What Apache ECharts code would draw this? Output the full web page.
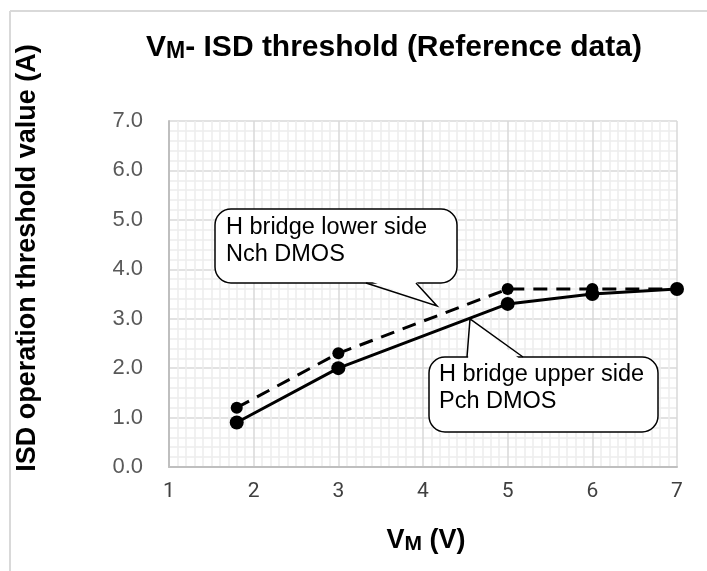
<!DOCTYPE html>
<html>
<head>
<meta charset="utf-8">
<script src="https://cdn.jsdelivr.net/npm/echarts@6/dist/echarts.min.js"></script>
<style>
html,body{margin:0;padding:0;background:#fff;}
#chart{width:707px;height:571px;}
</style>
</head>
<body>
<div id="chart"></div>
<script>
// Data
var vmValues = [1.8, 3, 5, 6, 7];
var lowerSideNch = [1.2, 2.3, 3.6, 3.6, 3.6];   // dashed
var upperSidePch = [0.9, 2.0, 3.3, 3.5, 3.6];   // solid
var xTicks = [1, 2, 3, 4, 5, 6, 7];
var yTicks = [0, 1, 2, 3, 4, 5, 6, 7];

function pairs(xs, ys) { return xs.map(function (x, i) { return [x, ys[i]]; }); }

var chart = echarts.init(document.getElementById('chart'), null, { renderer: 'canvas' });
var black = '#000000';
var ff = 'Liberation Sans, Arial, sans-serif';

chart.setOption({
  animation: false,
  backgroundColor: '#ffffff',
  grid: { left: 169, right: 30, top: 121, bottom: 104, containLabel: false },
  xAxis: {
    type: 'value',
    min: xTicks[0], max: xTicks[xTicks.length - 1], interval: 1,
    axisLine: { show: true, lineStyle: { color: '#bfbfbf', width: 2 } },
    axisTick: { show: false },
    minorTick: { show: false, splitNumber: 10 },
    minorSplitLine: { show: true, lineStyle: { color: '#ededed', width: 1.5 } },
    splitLine: { show: true, lineStyle: { color: '#d9d9d9', width: 1.5 } },
    axisLabel: { color: '#404040', fontFamily: 'Roboto', fontSize: 21, margin: 14 }
  },
  yAxis: {
    type: 'value',
    min: yTicks[0], max: yTicks[yTicks.length - 1], interval: 1,
    axisLine: { show: true, lineStyle: { color: '#bfbfbf', width: 2 } },
    axisTick: { show: false },
    minorTick: { show: false, splitNumber: 5 },
    minorSplitLine: { show: true, lineStyle: { color: '#ededed', width: 1.5 } },
    splitLine: { show: true, lineStyle: { color: '#d9d9d9', width: 1.5 } },
    axisLabel: {
      color: '#595959', fontFamily: ff, fontSize: 22, margin: 26,
      formatter: function (v) { return v.toFixed(1); }
    }
  },
  series: [
    {
      name: 'H bridge lower side Nch DMOS',
      type: 'line',
      data: pairs(vmValues, lowerSideNch),
      symbol: 'circle', symbolSize: 12,
      itemStyle: { color: black },
      lineStyle: { color: black, width: 3, type: [14, 9] },
      z: 3
    },
    {
      name: 'H bridge upper side Pch DMOS',
      type: 'line',
      data: pairs(vmValues, upperSidePch),
      symbol: 'circle', symbolSize: 14,
      itemStyle: { color: black },
      lineStyle: { color: black, width: 3 },
      z: 4
    }
  ],
  graphic: [
    // outer frame (top and left edges visible)
    { type: 'line', shape: { x1: 10, y1: 11, x2: 707, y2: 11 }, style: { stroke: '#d9d9d9', lineWidth: 2 } },
    { type: 'line', shape: { x1: 10, y1: 11, x2: 10, y2: 571 }, style: { stroke: '#d9d9d9', lineWidth: 2 } },
    // title
    {
      type: 'text', x: 394, y: 48, z: 10,
      style: {
        text: '{v|V}{m|M}{v|- ISD threshold (Reference data)}',
        textAlign: 'center', textVerticalAlign: 'middle',
        fontFamily: ff, fontWeight: 'bold', fontSize: 30, fill: '#000',
        rich: {
          v: { fontFamily: ff, fontWeight: 'bold', fontSize: 30, fill: '#000' },
          m: { fontFamily: ff, fontWeight: 'bold', fontSize: 23, fill: '#000', padding: [8, 0, 0, 0] }
        }
      }
    },
    // y axis title
    {
      type: 'text', x: 28, y: 258, rotation: Math.PI / 2, z: 10,
      style: {
        text: 'ISD operation threshold value (A)',
        textAlign: 'center', textVerticalAlign: 'middle',
        fontFamily: ff, fontWeight: 'bold', fontSize: 27, fill: '#000'
      }
    },
    // x axis title
    {
      type: 'text', x: 426, y: 541, z: 10,
      style: {
        text: '{v|V}{m|M}{v| (V)}',
        textAlign: 'center', textVerticalAlign: 'middle',
        fontFamily: ff, fontWeight: 'bold', fontSize: 27, fill: '#000',
        rich: {
          v: { fontFamily: ff, fontWeight: 'bold', fontSize: 27, fill: '#000' },
          m: { fontFamily: ff, fontWeight: 'bold', fontSize: 21, fill: '#000', padding: [7, 0, 0, 0] }
        }
      }
    },
    // lower-side callout
    { type: 'rect', z: 20, shape: { x: 215, y: 209, width: 242, height: 74, r: 16 }, style: { fill: '#fff', stroke: '#000', lineWidth: 1.5 } },
    { type: 'polygon', z: 21, shape: { points: [[367, 280], [437, 306], [415, 280]] }, style: { fill: '#fff' } },
    { type: 'polyline', z: 22, shape: { points: [[366, 283], [437, 306], [416, 283]] }, style: { stroke: '#000', lineWidth: 1.5, fill: null } },
    {
      type: 'text', z: 23, x: 226, y: 214.5,
      style: { text: 'H bridge lower side\nNch DMOS', fontFamily: ff, fontSize: 23.5, lineHeight: 27, fill: '#000', textAlign: 'left', textVerticalAlign: 'top' }
    },
    // upper-side callout
    { type: 'rect', z: 20, shape: { x: 429, y: 357, width: 229, height: 75, r: 16 }, style: { fill: '#fff', stroke: '#000', lineWidth: 1.5 } },
    { type: 'polygon', z: 21, shape: { points: [[468, 360], [470, 319], [521, 360]] }, style: { fill: '#fff' } },
    { type: 'polyline', z: 22, shape: { points: [[467, 357], [470, 319], [523, 357]] }, style: { stroke: '#000', lineWidth: 1.5, fill: null } },
    {
      type: 'text', z: 23, x: 439, y: 361.5,
      style: { text: 'H bridge upper side\nPch DMOS', fontFamily: ff, fontSize: 23.5, lineHeight: 27, fill: '#000', textAlign: 'left', textVerticalAlign: 'top' }
    }
  ]
});
</script>
</body>
</html>
